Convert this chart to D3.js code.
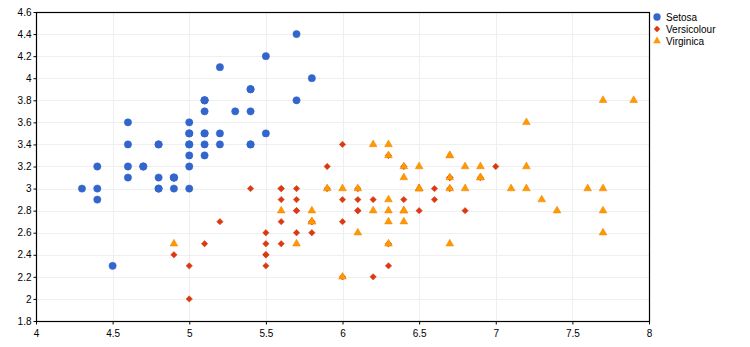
<!DOCTYPE html>
<html><head><meta charset="utf-8">
<script src="https://cdn.jsdelivr.net/npm/d3@7"></script>
<style>body{margin:0;background:#fff}svg{display:block;font-family:"Liberation Sans",Arial,sans-serif}</style>
</head><body><svg id="c" width="750" height="347"></svg>
<script>
const seriesNames = ["Setosa", "Versicolour", "Virginica"];
const seriesColors = ["#3366cc", "#dc3912", "#ff9900"];
const setosa = [[5.1,3.5],[4.9,3.0],[4.7,3.2],[4.6,3.1],[5.0,3.6],[5.4,3.9],[4.6,3.4],[5.0,3.4],[4.4,2.9],[4.9,3.1],[5.4,3.7],[4.8,3.4],[4.8,3.0],[4.3,3.0],[5.8,4.0],[5.7,4.4],[5.4,3.9],[5.1,3.5],[5.7,3.8],[5.1,3.8],[5.4,3.4],[5.1,3.7],[4.6,3.6],[5.1,3.3],[4.8,3.4],[5.0,3.0],[5.0,3.4],[5.2,3.5],[5.2,3.4],[4.7,3.2],[4.8,3.1],[5.4,3.4],[5.2,4.1],[5.5,4.2],[4.9,3.1],[5.0,3.2],[5.5,3.5],[4.9,3.1],[4.4,3.0],[5.1,3.4],[5.0,3.5],[4.5,2.3],[4.4,3.2],[5.0,3.5],[5.1,3.8],[4.8,3.0],[5.1,3.8],[4.6,3.2],[5.3,3.7],[5.0,3.3]];
const versicolour = [[7.0,3.2],[6.4,3.2],[6.9,3.1],[5.5,2.3],[6.5,2.8],[5.7,2.8],[6.3,3.3],[4.9,2.4],[6.6,2.9],[5.2,2.7],[5.0,2.0],[5.9,3.0],[6.0,2.2],[6.1,2.9],[5.6,2.9],[6.7,3.1],[5.6,3.0],[5.8,2.7],[6.2,2.2],[5.6,2.5],[5.9,3.2],[6.1,2.8],[6.3,2.5],[6.1,2.8],[6.4,2.9],[6.6,3.0],[6.8,2.8],[6.7,3.0],[6.0,2.9],[5.7,2.6],[5.5,2.4],[5.5,2.4],[5.8,2.7],[6.0,2.7],[5.4,3.0],[6.0,3.4],[6.7,3.1],[6.3,2.3],[5.6,3.0],[5.5,2.5],[5.5,2.6],[6.1,3.0],[5.8,2.6],[5.0,2.3],[5.6,2.7],[5.7,3.0],[5.7,2.9],[6.2,2.9],[5.1,2.5],[5.7,2.8]];
const virginica = [[6.3,3.3],[5.8,2.7],[7.1,3.0],[6.3,2.9],[6.5,3.0],[7.6,3.0],[4.9,2.5],[7.3,2.9],[6.7,2.5],[7.2,3.6],[6.5,3.2],[6.4,2.7],[6.8,3.0],[5.7,2.5],[5.8,2.8],[6.4,3.2],[6.5,3.0],[7.7,3.8],[7.7,2.6],[6.0,2.2],[6.9,3.2],[5.6,2.8],[7.7,2.8],[6.3,2.7],[6.7,3.3],[7.2,3.2],[6.2,2.8],[6.1,3.0],[6.4,2.8],[7.2,3.0],[7.4,2.8],[7.9,3.8],[6.4,2.8],[6.3,2.8],[6.1,2.6],[7.7,3.0],[6.3,3.4],[6.4,3.1],[6.0,3.0],[6.9,3.1],[6.7,3.1],[6.9,3.1],[5.8,2.7],[6.8,3.2],[6.7,3.3],[6.7,3.0],[6.3,2.5],[6.5,3.0],[6.2,3.4],[5.9,3.0]];
const xTicks = [4,4.5,5,5.5,6,6.5,7,7.5,8];
const yTicks = [1.8,2,2.2,2.4,2.6,2.8,3,3.2,3.4,3.6,3.8,4,4.2,4.4,4.6];

const svg = d3.select("#c");
const L = 36, R = 649, T = 12, B = 321;
const x = d3.scaleLinear().domain([4,8]).range([L,R]);
const y = d3.scaleLinear().domain([1.8,4.6]).range([B,T]);

// grid
svg.append("g").selectAll("line").data(xTicks.slice(1,-1)).join("line")
  .attr("x1",d=>Math.round(x(d))+0.5).attr("x2",d=>Math.round(x(d))+0.5).attr("y1",T).attr("y2",B)
  .attr("stroke","#efefef");
svg.append("g").selectAll("line").data(yTicks.slice(1,-1)).join("line")
  .attr("y1",d=>Math.round(y(d))+0.5).attr("y2",d=>Math.round(y(d))+0.5).attr("x1",L).attr("x2",R)
  .attr("stroke","#efefef");

// axes
const fmt = d => String(d);
const xa = svg.append("g").attr("transform",`translate(0,${B+0.5})`)
  .call(d3.axisBottom(x).tickValues(xTicks).tickFormat(fmt).tickSize(3).tickSizeOuter(0));
const ya = svg.append("g").attr("transform",`translate(${L+0.5},0)`)
  .call(d3.axisLeft(y).tickValues(yTicks).tickFormat(fmt).tickSize(3).tickSizeOuter(0));
[xa,ya].forEach(a=>{
  a.select(".domain").remove();
  a.selectAll("text").attr("font-size",10).attr("fill","#000").attr("font-family","Liberation Sans, Arial, sans-serif");
  a.selectAll("line").attr("stroke","#000");
});
xa.selectAll("text").attr("dy","0.71em").attr("y",8);
ya.selectAll("text").attr("x",-5);

// frame
svg.append("rect").attr("x",L+0.5).attr("y",T+0.5).attr("width",R-L).attr("height",B-T)
  .attr("fill","none").attr("stroke","#000").attr("stroke-width",1.2);

const shapes = [
  d3.symbol().type(d3.symbolCircle).size(42),
  d3.symbol().type(d3.symbolDiamond2).size(26),
  d3.symbol().type(d3.symbolTriangle).size(26)
];
const data = [setosa, versicolour, virginica];
data.forEach((pts,i)=>{
  svg.append("g").selectAll("path").data(pts).join("path")
    .attr("transform",d=>`translate(${x(d[0])},${y(d[1])})`)
    .attr("d",shapes[i])
    .attr("fill",seriesColors[i])
    .attr("stroke", i===2 ? "#f08000" : seriesColors[i]).attr("stroke-width",0.5);
});

// legend
const lg = svg.append("g");
seriesNames.forEach((n,i)=>{
  const cy = 17 + i*12;
  lg.append("path").attr("transform",`translate(657,${cy})`).attr("d",shapes[i]).attr("fill",seriesColors[i]);
  lg.append("text").attr("x",666).attr("y",cy).attr("dy","0.35em").attr("font-size",10).text(n);
});
</script></body></html>
